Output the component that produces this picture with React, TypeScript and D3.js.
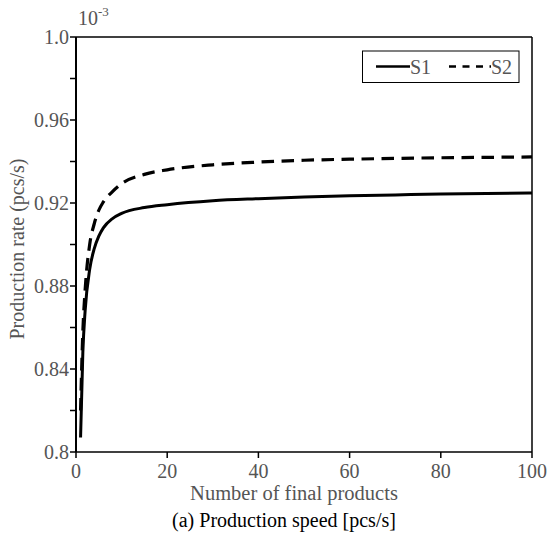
import React from "react";
import * as d3 from "d3";

const xs = [1, 1.5, 2, 3, 4, 5, 6, 8, 10, 15, 20, 30, 40, 50, 60, 70, 80, 90, 100];
const s1 = [0.807, 0.848, 0.868, 0.888, 0.898, 0.904, 0.908, 0.9125, 0.915, 0.9178, 0.9192, 0.9211, 0.9221, 0.9229, 0.9235, 0.9239, 0.9243, 0.9246, 0.9248];
const s2 = [0.82, 0.858, 0.878, 0.9, 0.91, 0.9165, 0.9205, 0.9255, 0.9293, 0.9338, 0.936, 0.9384, 0.9397, 0.9406, 0.9411, 0.9415, 0.9418, 0.942, 0.9422];
const xTicks = [0, 20, 40, 60, 80, 100];
const yTicks = [0.8, 0.82, 0.84, 0.86, 0.88, 0.9, 0.92, 0.94, 0.96, 0.98, 1.0];
const yLabels = ["0.8", "0.84", "0.88", "0.92", "0.96", "1.0"];

const W = 550;
const H = 535;
const m = { left: 76, right: 532, top: 37, bottom: 452 };
const gray = "#555";
const font = "'Liberation Serif', 'Times New Roman', serif";

export default function App() {
  const x = d3.scaleLinear().domain([0, 100]).range([m.left, m.right]);
  const y = d3.scaleLinear().domain([0.8, 1.0]).range([m.bottom, m.top]);

  const line = d3
    .line<[number, number]>()
    .x((d) => x(d[0]))
    .y((d) => y(d[1]))
    .curve(d3.curveMonotoneX);

  const p1 = line(xs.map((v, i) => [v, s1[i]]) as [number, number][]) || "";
  const p2 = line(xs.map((v, i) => [v, s2[i]]) as [number, number][]) || "";

  return (
    <svg
      width={W}
      height={H}
      style={{ position: "absolute", left: 0, top: 0, background: "#fff" }}
      fontFamily={font}
    >
      {/* frame */}
      <line x1={m.left} x2={m.right} y1={m.top} y2={m.top} stroke="#000" strokeWidth={1.5} />
      <line x1={m.right} x2={m.right} y1={m.top} y2={m.bottom} stroke="#000" strokeWidth={1.5} />
      <line x1={m.left} x2={m.right} y1={m.bottom} y2={m.bottom} stroke="#000" strokeWidth={1.5} />
      <line x1={m.left} x2={m.left} y1={m.top} y2={m.bottom} stroke="#000" strokeWidth={2} />

      {/* y ticks */}
      {yTicks.map((t) => (
        <line key={t} x1={m.left - 6} x2={m.left} y1={y(t)} y2={y(t)} stroke="#000" strokeWidth={1.5} />
      ))}
      {yLabels.map((t) => (
        <text key={t} x={m.left - 7} y={y(+t)} dy="0.35em" textAnchor="end" fontSize={20} fill={gray}>
          {t}
        </text>
      ))}

      {/* x ticks */}
      {xTicks.map((t) => (
        <g key={t}>
          <line x1={x(t)} x2={x(t)} y1={m.bottom} y2={m.bottom + 6} stroke="#000" strokeWidth={1.5} />
          <text x={x(t)} y={478} textAnchor="middle" fontSize={20} fill={gray}>
            {t}
          </text>
        </g>
      ))}

      {/* exponent */}
      <text x={78} y={25} fontSize={20} fill={gray}>
        10<tspan dy={-9} fontSize={13}>-3</tspan>
      </text>

      {/* curves */}
      <path d={p1} fill="none" stroke="#000" strokeWidth={3} />
      <path d={p2} fill="none" stroke="#000" strokeWidth={3.2} strokeDasharray="12.5,7.5" />

      {/* legend */}
      <rect x={362.5} y={51} width={156.5} height={31.5} fill="#fff" stroke="#000" strokeWidth={1} />
      <line x1={376} x2={410} y1={66.5} y2={66.5} stroke="#000" strokeWidth={2.5} />
      <text x={410} y={73.5} fontSize={20} fill={gray}>S1</text>
      <line x1={449} x2={491} y1={66.5} y2={66.5} stroke="#000" strokeWidth={2.5} strokeDasharray="7,6.5" />
      <text x={491} y={73.5} fontSize={20} fill={gray}>S2</text>

      {/* axis titles */}
      <text x={294} y={500} textAnchor="middle" fontSize={20.5} fill={gray}>
        Number of final products
      </text>
      <text
        transform={`translate(24,249) rotate(-90)`}
        textAnchor="middle"
        fontSize={20}
        fill={gray}
      >
        Production rate (pcs/s)
      </text>
      <text x={284} y={527} textAnchor="middle" fontSize={20} fill="#000">
        (a) Production speed [pcs/s]
      </text>
    </svg>
  );
}
